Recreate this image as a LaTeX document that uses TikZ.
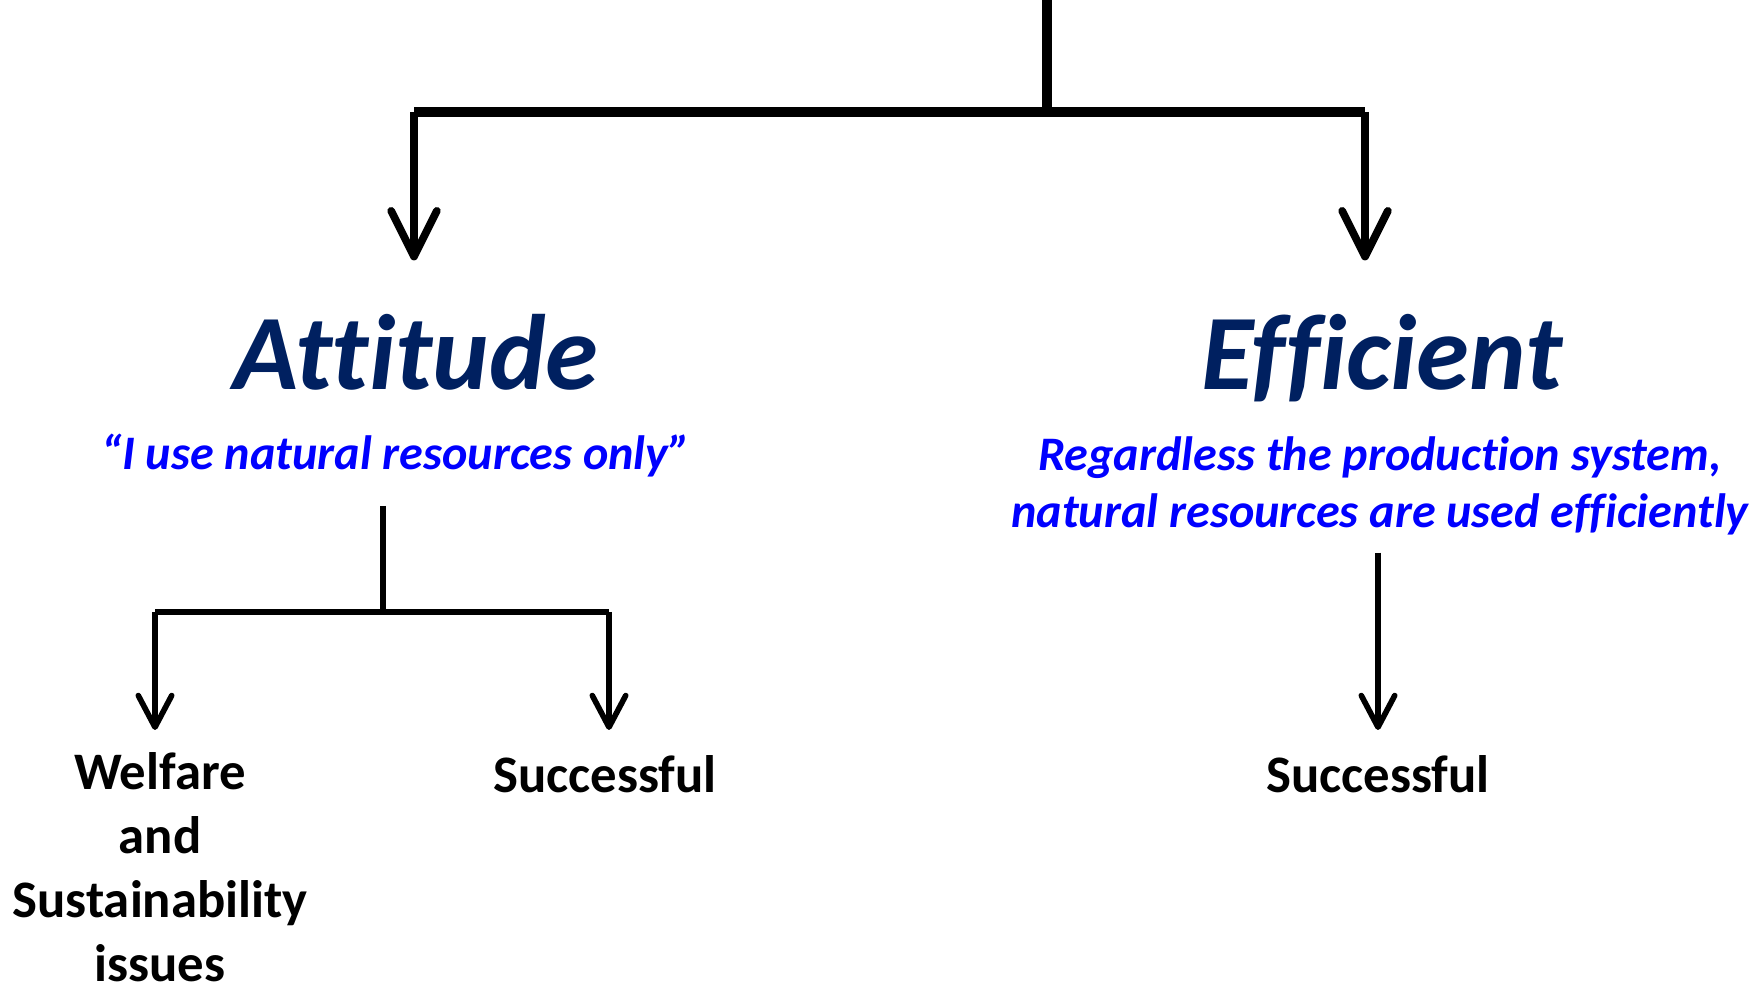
\documentclass[tikz,border=0pt]{standalone}
\usepackage{fontspec}
\setmainfont{Carlito}[Ligatures=NoCommon]
\usetikzlibrary{arrows.meta,calc}
\definecolor{navy}{HTML}{002060}
\definecolor{quoteblue}{HTML}{0000FF}

\begin{document}
\begin{tikzpicture}[
  trunk/.style={line width=3pt},
  stemline/.style={line width=1.8pt},
  branch/.style={line width=2.2pt, -{Straight Barb[length=13pt,width=13pt,round]}},
  twig/.style={line width=1.6pt, -{Straight Barb[length=9pt,width=9.5pt,round]}},
  title/.style={font=\fontsize{30.5}{37}\selectfont\bfseries\itshape, text=navy, inner sep=0pt, text height=23pt, text depth=8pt},
  motto/.style={font=\fontsize{13.7}{16.2}\selectfont\bfseries\itshape, text=quoteblue, align=center, inner sep=0pt},
  outcome/.style={font=\fontsize{15}{18.2}\selectfont\bfseries, align=center, inner sep=0pt}
]
\path[use as bounding box] (0,0) rectangle (17.62,9.88);

% top split
\coordinate (root) at (10.47,9.88);
\coordinate (split) at (10.47,8.76);
\coordinate (barL) at (4.14,8.76);
\coordinate (barR) at (13.65,8.76);

\node[title, anchor=base] (att) at (4.16,5.98) {Attitude};
\node[title, anchor=base] (eff) at (13.82,5.98) {Efficient};
\node[motto, anchor=base] (quote) at (3.96,5.18) {“I use natural resources only”};
\node[motto, anchor=north] (regard) at (13.80,5.52) {Regardless the production system,\\natural resources are used efficiently};

\draw[trunk] (root) -- (split);
\draw[trunk] (barL) -- (barR);
\draw[branch, shorten >=0.48cm] (barL) -- (barL |- att.north);
\draw[branch, shorten >=0.48cm] (barR) -- (barR |- eff.north);

% lower branches
\coordinate (stem) at (3.83,4.82);
\coordinate (fork) at (3.83,3.76);
\coordinate (forkL) at (1.55,3.76);
\coordinate (forkR) at (6.09,3.76);

\node[outcome, anchor=north] (welfare) at (1.60,2.36) {Welfare\\and\\Sustainability\\issues};
\node[outcome, anchor=north] (succL) at (6.05,2.33) {Successful};
\node[outcome, anchor=north] (succR) at (13.78,2.33) {Successful};

\draw[stemline] (stem) -- (fork);
\draw[stemline] (forkL) -- (forkR);
\draw[twig, shorten >=0.22cm] (forkL) -- (forkL |- welfare.north);
\draw[twig, shorten >=0.25cm] (forkR) -- (forkR |- succL.north);
\draw[twig, shorten <=0.17cm, shorten >=0.25cm] (regard.south -| succR) -- (succR);
\end{tikzpicture}
\end{document}
